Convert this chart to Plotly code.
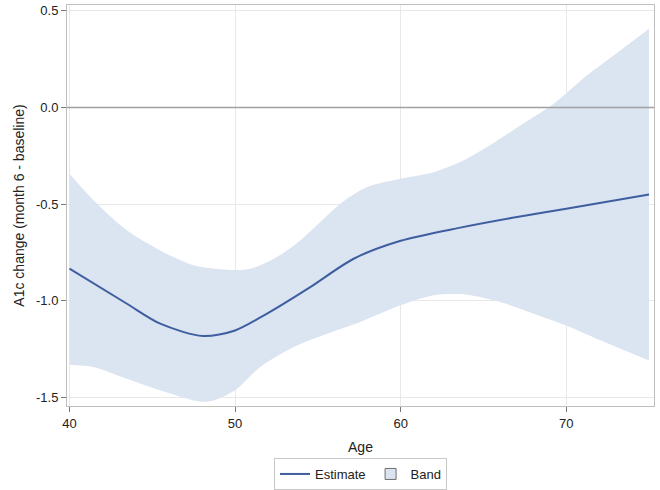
import plotly.graph_objects as go

# Estimate curve
est_age = [40, 43.47, 45.48, 48.06, 50, 51.93, 54.54, 57.16, 60, 63.6, 67.03, 70, 75]
est_val = [-0.834, -1.016, -1.119, -1.183, -1.154, -1.067, -0.93, -0.783, -0.69, -0.622, -0.567, -0.524, -0.45]

# Upper confidence limit
up_age = [40, 41.45, 43.47, 45.48, 47.5, 49.5, 50.92, 52.53, 53.94, 55.15, 56.36, 57.97, 60, 62.0, 63.6, 65.22, 67.23, 69.25, 71.26, 73.27, 75]
up_val = [-0.343, -0.48, -0.636, -0.74, -0.817, -0.84, -0.835, -0.774, -0.688, -0.593, -0.498, -0.412, -0.369, -0.335, -0.283, -0.205, -0.093, 0.019, 0.166, 0.295, 0.407]

# Lower confidence limit
lo_age = [40, 41.45, 43.47, 45.48, 47.5, 48.5, 50, 51.52, 53.53, 55.55, 57.56, 60, 62.0, 64.0, 66.02, 68.04, 70, 72.07, 75]
lo_val = [-1.331, -1.343, -1.404, -1.464, -1.516, -1.521, -1.464, -1.343, -1.24, -1.171, -1.11, -1.024, -0.972, -0.969, -1.007, -1.067, -1.128, -1.205, -1.31]

x_ticks = [40, 50, 60, 70]
y_ticks = [-1.5, -1.0, -0.5, 0.0, 0.5]
y_tick_text = ["-1.5", "-1.0", "-0.5", "0.0", "0.5"]

band_color = "rgb(219,228,241)"
line_color = "rgb(62,94,160)"

fig = go.Figure()
fig.add_trace(go.Scatter(
    x=lo_age, y=lo_val, mode="lines",
    line=dict(width=0, color=band_color, shape="spline", smoothing=0.8),
    showlegend=False, hoverinfo="skip", legendgroup="band"))
fig.add_trace(go.Scatter(
    x=up_age, y=up_val, mode="lines", fill="tonexty", fillcolor=band_color,
    line=dict(width=0, color=band_color, shape="spline", smoothing=0.8),
    showlegend=False, hoverinfo="skip", legendgroup="band"))
# legend entry for the band (square swatch)
fig.add_trace(go.Scatter(
    x=[None], y=[None], mode="markers", name="Band", legendgroup="band",
    marker=dict(symbol="square", size=11, color=band_color,
                line=dict(color="rgb(110,110,110)", width=1))))
fig.add_trace(go.Scatter(
    x=est_age, y=est_val, mode="lines",
    line=dict(color=line_color, width=2, shape="spline", smoothing=0.8),
    name="Estimate"))

fig.add_hline(y=0, line=dict(color="rgb(160,160,160)", width=1.5), layer="above")

font = dict(family="Liberation Sans, Arial, sans-serif", size=13, color="#222")
fig.update_layout(
    width=660, height=490,
    margin=dict(l=67, r=6, t=5, b=84, autoexpand=False),
    plot_bgcolor="white", paper_bgcolor="white",
    font=font,
    showlegend=True,
    legend=dict(orientation="h", x=0.5, xanchor="center", y=0.0, yanchor="bottom",
                yref="container",
                bordercolor="rgb(200,200,200)", borderwidth=1,
                traceorder="reversed", itemwidth=30,
                font=dict(family="Liberation Sans, Arial, sans-serif", size=13, color="#222")),
    xaxis=dict(range=[39.85, 75.3], tickvals=x_ticks, ticks="outside", ticklen=5,
               tickcolor="rgb(120,120,120)",
               showgrid=True, gridcolor="rgb(232,232,232)", gridwidth=1,
               zeroline=False, showline=True, linecolor="rgb(190,190,190)", mirror=True,
               title=dict(text="Age", standoff=12, font=dict(size=14))),
    yaxis=dict(range=[-1.545, 0.53], tickvals=y_ticks, ticktext=y_tick_text,
               ticks="outside", ticklen=5, tickcolor="rgb(120,120,120)",
               showgrid=True, gridcolor="rgb(232,232,232)", gridwidth=1,
               zeroline=False, showline=True, linecolor="rgb(190,190,190)", mirror=True,
               title=dict(text="A1c change (month 6 - baseline)", standoff=8, font=dict(size=14))),
)

fig.write_html("out.html")
